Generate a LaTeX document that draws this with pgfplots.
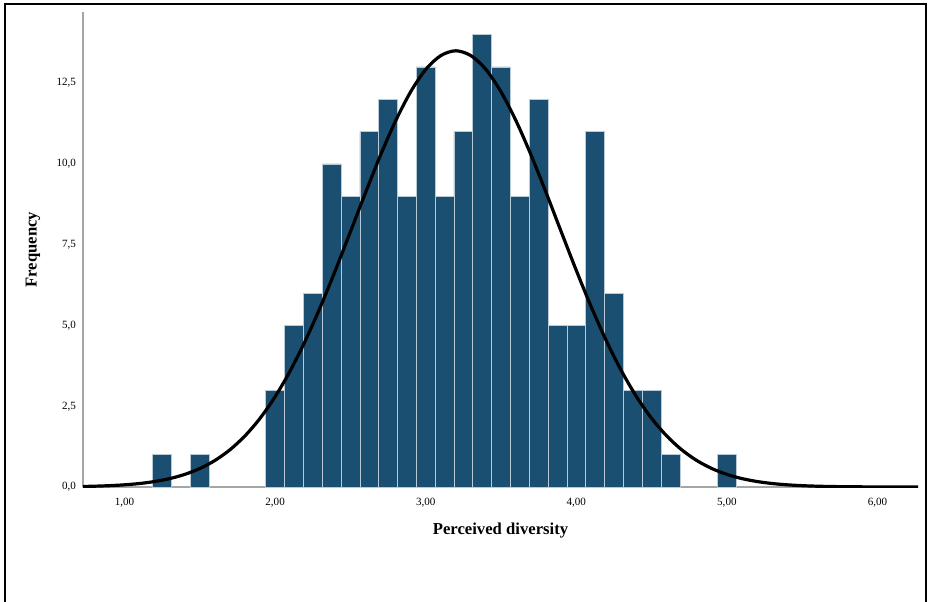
\documentclass[border=0pt]{standalone}
\usepackage{fontspec}
\setmainfont{Liberation Serif}
\usepackage{pgfplots}
\pgfplotsset{compat=1.18}
\definecolor{barblue}{RGB}{27,79,114}
\definecolor{baredge}{RGB}{185,202,214}
\definecolor{axgray}{RGB}{165,165,165}
\begin{document}
\begin{tikzpicture}
\useasboundingbox (-62.25pt,-85.5pt) rectangle (634.5pt,365.25pt);
\draw[line width=1.3pt,black] (-58.5pt,-90pt) -- (-58.5pt,362.25pt) -- (632.25pt,362.25pt) -- (632.25pt,-90pt);
\begin{axis}[
  at={(0pt,0pt)}, anchor=origin,
  scale only axis,
  width=626.25pt, height=356.25pt,
  xmin=0.7244, xmax=6.269,
  ymin=0, ymax=14.70,
  axis lines=left,
  axis line style={-, draw=axgray, line width=1.1pt},
  major tick length=0pt,
  xtick={1,2,3,4,5,6},
  ytick={0,2.5,5,7.5,10,12.5},
  /pgf/number format/assume math mode=true,
  xticklabel style={/pgf/number format/.cd, fixed, fixed zerofill, precision=2, use comma, /tikz/.cd, font=\fontsize{8.3}{9}\selectfont, yshift=-4.5pt},
  yticklabel style={/pgf/number format/.cd, fixed, fixed zerofill, precision=1, use comma, /tikz/.cd, font=\fontsize{8.3}{9}\selectfont, xshift=-1.8pt},
  xlabel={Perceived diversity},
  ylabel={Frequency},
  xlabel style={at={(axis description cs:0.5,-0.0925)}, anchor=center, font=\fontsize{12.5}{14}\selectfont\bfseries},
  ylabel style={at={(axis description cs:-0.0599,0.5)}, anchor=center, font=\fontsize{12.5}{14}\selectfont\bfseries},
  clip=true,
]
\addplot[ybar, bar width=0.125, fill=barblue, draw=baredge, line width=0.45pt] coordinates {
(1.25,1) (1.5,1)
(2.000,3) (2.125,5) (2.250,6) (2.375,10) (2.500,9) (2.625,11) (2.750,12) (2.875,9)
(3.000,13) (3.125,9) (3.250,11) (3.375,14) (3.500,13) (3.625,9) (3.750,12) (3.875,5)
(4.000,5) (4.125,11) (4.250,6) (4.375,3) (4.500,3) (4.625,1)
(5.0,1)
};
\addplot[black, line width=2.4pt, smooth] coordinates {
(0.72,0.0161) (0.8,0.0247) (0.9,0.0414) (1.0,0.0677) (1.1,0.108) (1.2,0.170) (1.3,0.260) (1.4,0.390)
(1.5,0.572) (1.6,0.820) (1.7,1.151) (1.8,1.582) (1.9,2.125) (2.0,2.793) (2.1,3.592) (2.2,4.520)
(2.3,5.565) (2.4,6.703) (2.5,7.898) (2.6,9.104) (2.7,10.27) (2.8,11.33) (2.9,12.23) (3.0,12.92)
(3.1,13.35) (3.2,13.5) (3.3,13.35) (3.4,12.92) (3.5,12.23) (3.6,11.33) (3.7,10.27) (3.8,9.104)
(3.9,7.898) (4.0,6.703) (4.1,5.565) (4.2,4.520) (4.3,3.592) (4.4,2.793) (4.5,2.125) (4.6,1.582)
(4.7,1.151) (4.8,0.820) (4.9,0.572) (5.0,0.390) (5.1,0.260) (5.2,0.170) (5.3,0.108) (5.4,0.0677)
(5.5,0.0414) (5.6,0.0247) (5.7,0.0145) (5.8,0.0083) (5.9,0.0047) (6.0,0.0025) (6.1,0.0013) (6.2,0.0007) (6.269,0.0003)
};
\end{axis}
\end{tikzpicture}
\end{document}
